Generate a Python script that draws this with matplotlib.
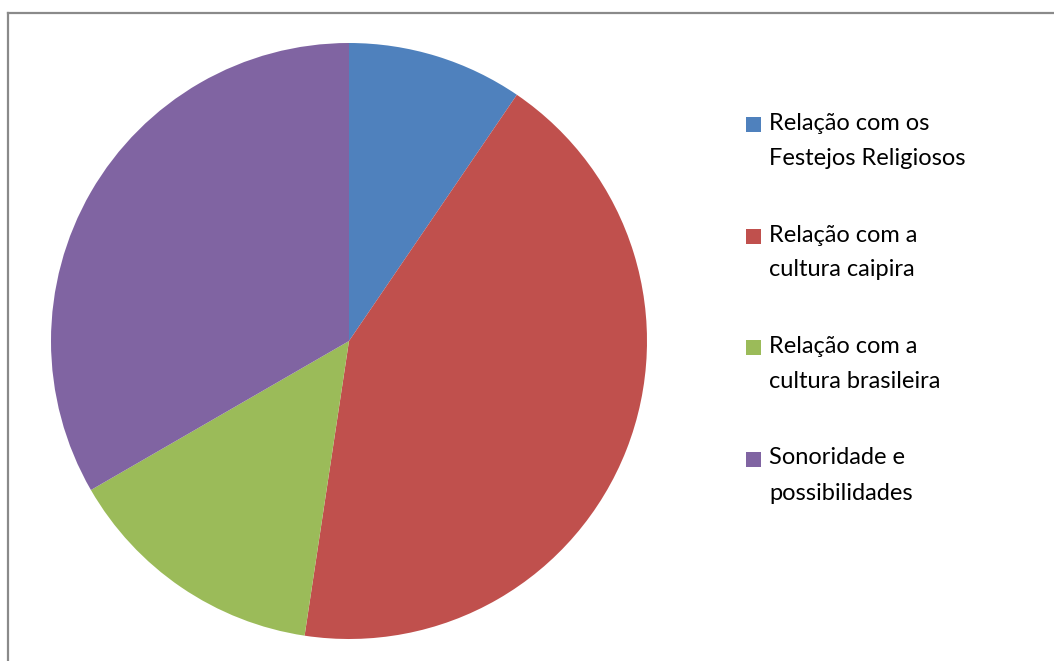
import matplotlib
matplotlib.use("Agg")
import matplotlib.pyplot as plt
from matplotlib.patches import Rectangle
from matplotlib.lines import Line2D

# Respostas agrupadas por categoria
categorias = [
    "Relação com os\nFestejos Religiosos",
    "Relação com a\ncultura caipira",
    "Relação com a\ncultura brasileira",
    "Sonoridade e\npossibilidades",
]
valores = [2, 9, 3, 7]
cores = ["#4F81BD", "#C0504D", "#9BBB59", "#8064A2"]

W, H = 1054, 661
fig = plt.figure(figsize=(W / 100, H / 100), dpi=100)
fig.patch.set_facecolor("white")

# Moldura (apenas bordas superior e esquerda visíveis)
fig.add_artist(Line2D([7.5 / W, 7.5 / W], [0, 1 - 13 / H], transform=fig.transFigure,
                      color="#8a8a8a", lw=1.6))
fig.add_artist(Line2D([7.5 / W, 1], [1 - 13 / H, 1 - 13 / H], transform=fig.transFigure,
                      color="#8a8a8a", lw=1.6))

# Pizza
cx, cy, r = 349, 341, 298
ax = fig.add_axes([(cx - r) / W, (H - cy - r) / H, 2 * r / W, 2 * r / H])
ax.pie(valores, colors=cores, startangle=90, counterclock=False,
       wedgeprops=dict(linewidth=0), radius=1.0)
ax.set_xlim(-1, 1)
ax.set_ylim(-1, 1)
ax.set_aspect("equal")
ax.axis("off")

# Legenda
font = ["Lato", "DejaVu Sans"]
sq_x, sq_w = 746, 15
first_top = 117
step = 111.5
for i, (rotulo, cor) in enumerate(zip(categorias, cores)):
    top = first_top + i * step
    fig.add_artist(Rectangle((sq_x / W, 1 - (top + sq_w) / H), sq_w / W, sq_w / H,
                             transform=fig.transFigure, facecolor=cor, edgecolor="none"))
    for j, linha in enumerate(rotulo.split("\n")):
        base = top + 13 + j * 35
        fig.text(769 / W, 1 - base / H, linha, fontsize=17, family=font,
                 color="black", ha="left", va="baseline")

fig.savefig("out.png", dpi=100)
